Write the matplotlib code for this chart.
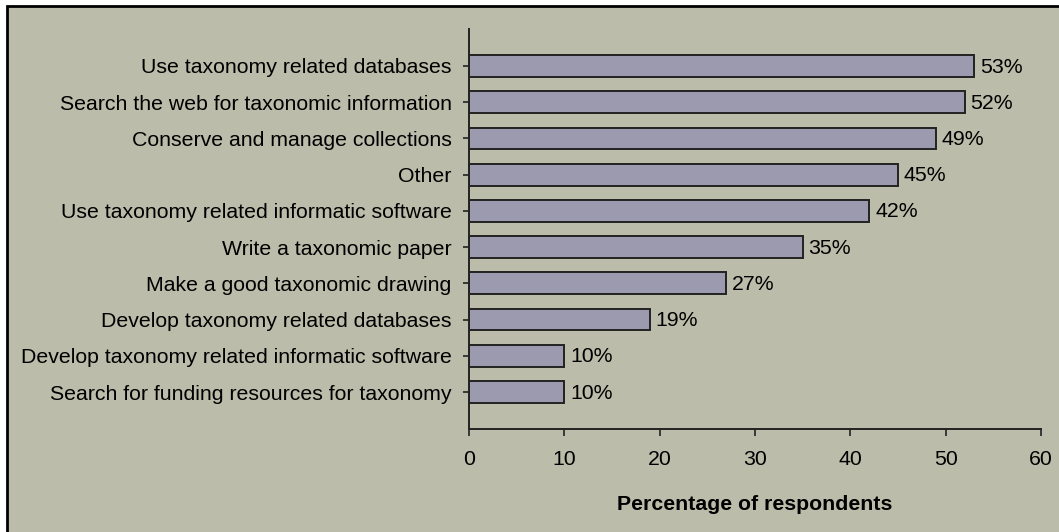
import matplotlib
matplotlib.use("Agg")
import matplotlib.pyplot as plt
from matplotlib.patches import Rectangle

# Survey: skills respondents would like to improve
CATEGORIES = [
    "Use taxonomy related databases",
    "Search the web for taxonomic information",
    "Conserve and manage collections",
    "Other",
    "Use taxonomy related informatic software",
    "Write a taxonomic paper",
    "Make a good taxonomic drawing",
    "Develop taxonomy related databases",
    "Develop taxonomy related informatic software",
    "Search for funding resources for taxonomy",
]
PERCENT = [53, 52, 49, 45, 42, 35, 27, 19, 10, 10]
X_TICKS = [0, 10, 20, 30, 40, 50, 60]

BG = "#bbbca9"
BAR = "#9c9aae"
EDGE = "#222222"
FS = 15.3

plt.rcParams["font.family"] = ["Liberation Sans", "DejaVu Sans"]

W, H = 1059, 532
fig = plt.figure(figsize=(W / 100, H / 100), dpi=100)
fig.patch.set_facecolor("white")

# chart-area frame, running off the right and bottom edges
fig.add_artist(Rectangle((7 / W, -0.05), 1.1, 1 - 5.5 / H + 0.05,
                         transform=fig.transFigure, facecolor=BG,
                         edgecolor="black", linewidth=2, zorder=0))

ax = fig.add_axes([469 / W, 1 - 429 / H, (1041 - 469) / W, (429 - 29) / H])
ax.set_facecolor("none")

y = list(range(len(CATEGORIES)))
ax.barh(y, PERCENT, height=0.6, color=BAR, edgecolor=EDGE, linewidth=1.4)
for yi, v in zip(y, PERCENT):
    ax.text(v + 0.6, yi + 0.03, f"{v}%", va="center", ha="left", fontsize=FS)

ax.set_ylim(10.02, -1.02)
ax.set_xlim(0, 60)
ax.set_yticks(y)
ax.set_yticklabels(CATEGORIES, fontsize=FS)
ax.set_xticks(X_TICKS)
ax.set_xticklabels([str(t) for t in X_TICKS], fontsize=FS)
ax.tick_params(axis="y", length=4, width=1.2, pad=8.5, color=EDGE)
ax.tick_params(axis="x", length=5, width=1.2, pad=10, color=EDGE)
ax.set_xlabel("Percentage of respondents", fontsize=FS, fontweight="bold",
              labelpad=19)

for side in ("top", "right"):
    ax.spines[side].set_visible(False)
for side in ("left", "bottom"):
    ax.spines[side].set_linewidth(1.4)
    ax.spines[side].set_color(EDGE)

fig.savefig("out.png", dpi=100, facecolor=fig.get_facecolor())
